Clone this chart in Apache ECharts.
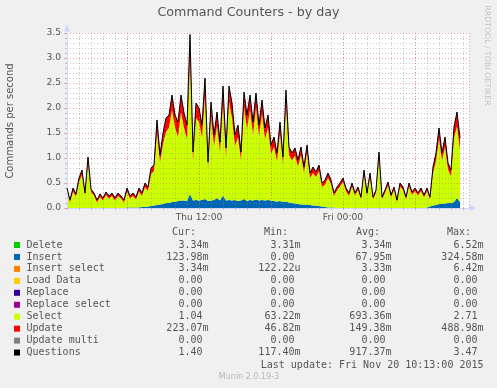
<!DOCTYPE html>
<html><head><meta charset="utf-8">
<script src="https://cdn.jsdelivr.net/npm/echarts@6/dist/echarts.min.js"></script>
<style>html,body{margin:0;padding:0;background:#F0F0F0;}#c{width:497px;height:388px;}</style>
</head><body><div id="c"></div>
<script>
// samples every 15 minutes starting Thu 01:00 (hours since Thu 00:00)
const sampleStartHour = 1;
const sampleStepHours = 0.25;
const slotCount = 135; // time slots shown on the axis (Thu 01:00 .. Fri 10:30)

const questions = [
0.40,0.16,0.40,0.28,0.60,0.76,0.30,1.02,0.38,0.30,
0.16,0.28,0.20,0.32,0.24,0.30,0.20,0.30,0.24,0.16,
0.40,0.24,0.30,0.22,0.40,0.30,0.50,0.42,0.80,0.86,
1.76,1.06,1.50,1.80,1.86,2.26,1.86,1.72,2.26,1.90,
1.66,3.47,1.12,2.10,2.00,1.66,2.60,0.92,2.12,1.46,
1.92,1.32,2.44,1.20,2.44,2.10,1.46,1.66,1.12,2.32,
1.86,2.26,1.72,2.30,1.66,2.16,1.60,1.86,1.26,1.42,
1.10,1.72,1.02,2.36,1.22,1.10,1.20,0.96,1.22,0.82,
1.26,0.70,0.82,0.72,0.86,0.50,0.56,0.70,0.56,0.30,
0.42,0.50,0.60,0.40,0.30,0.50,0.30,0.42,0.22,0.76,
0.30,0.70,0.22,0.36,1.12,0.22,0.36,0.52,0.26,0.42,
0.16,0.50,0.42,0.22,0.50,0.32,0.40,0.30,0.40,0.26,
0.40,0.22,0.82,1.10,1.60,1.10,1.42,0.90,0.76,1.62,
1.92,1.40];

const insert = [
0,0,0,0,0,0,0,0,0,0,
0,0,0,0,0,0,0,0,0,0,
0.01,0.01,0.01,0.01,0.01,0.02,0.02,0.03,0.04,0.05,
0.06,0.07,0.08,0.10,0.10,0.12,0.12,0.14,0.15,0.15,
0.14,0.28,0.15,0.16,0.15,0.16,0.18,0.14,0.15,0.16,
0.20,0.15,0.25,0.15,0.16,0.15,0.16,0.14,0.15,0.18,
0.14,0.16,0.15,0.17,0.15,0.16,0.15,0.16,0.15,0.14,
0.13,0.14,0.12,0.13,0.11,0.10,0.09,0.08,0.07,0.07,
0.06,0.06,0.05,0.05,0.04,0.03,0.02,0.01,0.01,0.01,
0,0,0,0,0,0,0,0,0,0,
0,0,0,0,0,0,0,0,0,0,
0,0,0,0,0,0,0,0,0,0,
0.01,0.03,0.05,0.06,0.08,0.08,0.09,0.10,0.10,0.12,
0.20,0.12];

const select = [
0.34,0.11,0.33,0.23,0.52,0.66,0.25,0.90,0.32,0.25,
0.11,0.22,0.15,0.26,0.19,0.24,0.15,0.24,0.19,0.11,
0.32,0.18,0.23,0.16,0.32,0.22,0.40,0.31,0.64,0.69,
1.45,0.84,1.20,1.42,1.51,1.84,1.49,1.28,1.76,1.45,
1.24,2.70,0.79,1.64,1.57,1.25,2.07,0.63,1.67,1.08,
1.44,0.97,1.84,0.87,1.96,1.65,1.08,1.27,0.81,1.84,
1.44,1.80,1.32,1.83,1.29,1.72,1.23,1.45,0.93,1.08,
0.81,1.36,0.75,1.93,0.95,0.85,0.96,0.75,0.99,0.63,
1.05,0.54,0.65,0.57,0.70,0.39,0.45,0.59,0.47,0.23,
0.35,0.43,0.52,0.34,0.24,0.43,0.25,0.36,0.17,0.66,
0.24,0.61,0.17,0.30,1.00,0.17,0.30,0.45,0.21,0.36,
0.11,0.43,0.36,0.17,0.43,0.26,0.34,0.25,0.34,0.21,
0.33,0.14,0.65,0.88,1.30,0.87,1.13,0.67,0.54,1.28,
1.44,1.04];

const update = [
0.06,0.05,0.07,0.05,0.08,0.10,0.05,0.12,0.06,0.05,
0.05,0.06,0.05,0.06,0.05,0.06,0.05,0.06,0.05,0.05,
0.07,0.05,0.06,0.05,0.07,0.06,0.08,0.08,0.12,0.12,
0.25,0.15,0.22,0.28,0.25,0.30,0.25,0.30,0.35,0.30,
0.28,0.49,0.18,0.30,0.28,0.25,0.35,0.15,0.30,0.22,
0.28,0.20,0.35,0.18,0.32,0.30,0.22,0.25,0.16,0.30,
0.28,0.30,0.25,0.30,0.22,0.28,0.22,0.25,0.18,0.20,
0.16,0.22,0.15,0.30,0.16,0.15,0.15,0.13,0.16,0.12,
0.15,0.10,0.12,0.10,0.12,0.08,0.09,0.10,0.08,0.06,
0.07,0.07,0.08,0.06,0.06,0.07,0.05,0.06,0.05,0.10,
0.06,0.09,0.05,0.06,0.12,0.05,0.06,0.07,0.05,0.06,
0.05,0.07,0.06,0.05,0.07,0.06,0.06,0.05,0.06,0.05,
0.06,0.05,0.12,0.16,0.22,0.15,0.20,0.13,0.12,0.22,
0.28,0.223];

const xTickHours = [12, 24];
const xTickLabels = ['Thu 12:00', 'Fri 00:00'];
const majorGridHours = [6, 12, 18, 24, 30];
const yMin = 0, yMax = 3.5, yStep = 0.5;

const legendNames = ['Delete','Insert','Insert select','Load Data','Replace','Replace select','Select','Update','Update multi','Questions'];
const legendColors = ['#00CC00','#0066B3','#FF8000','#FFCC00','#330099','#990099','#CCFF00','#FF0000','#808080','#000000'];
const curValues = ['3.34m','123.98m','3.34m','0.00','0.00','0.00','1.04','223.07m','0.00','1.40'];
const minValues = ['3.31m','0.00','122.22u','0.00','0.00','0.00','63.22m','46.82m','0.00','117.40m'];
const avgValues = ['3.34m','67.95m','3.33m','0.00','0.00','0.00','693.36m','149.38m','0.00','917.37m'];
const maxValues = ['6.52m','324.58m','6.42m','0.00','0.00','0.00','2.71','488.98m','0.00','3.47'];
const columnHeaders = ['Cur:','Min:','Avg:','Max:'];
const lastUpdate = 'Last update: Fri Nov 20 10:13:00 2015';

const slotHours = Array.from({length: slotCount}, (_, i) => sampleStartHour + i * sampleStepHours);
const categories = slotHours.map(h => String(h));

const SANS = '"DejaVu Sans", sans-serif';
const MONO = '"DejaVu Sans Mono", monospace';
const TXT = '#555555';

const graphics = [];
graphics.push({type:'text', x:248.5, y:13, style:{text:'Command Counters - by day', fontFamily:SANS, fontSize:12.7, fill:TXT, align:'center', verticalAlign:'middle'}});
graphics.push({type:'text', x:10, y:121, rotation:Math.PI/2, style:{text:'Commands per second', fontFamily:SANS, fontSize:10, fill:TXT, align:'center', verticalAlign:'middle'}});
graphics.push({type:'text', x:487, y:55.5, rotation:-Math.PI/2, style:{text:'RRDTOOL / TOBI OETIKER', fontFamily:SANS, fontSize:7.8, fill:'#c4c4c4', align:'center', verticalAlign:'middle'}});
graphics.push({type:'text', x:249, y:377, style:{text:'Munin 2.0.19-3', fontFamily:SANS, fontSize:8, fill:'#b8b8b8', align:'center', verticalAlign:'middle'}});

const colRight = [208.5, 300.5, 391.5, 483.5];
const headerLeft = [172, 264, 356, 447];
columnHeaders.forEach((h,k)=>{
  graphics.push({type:'text', x:headerLeft[k], y:232.5, style:{text:h, fontFamily:MONO, fontSize:10, fill:TXT, align:'left', verticalAlign:'middle'}});
});
const cols = [curValues, minValues, avgValues, maxValues];
legendNames.forEach((n,r)=>{
  const y = 245 + r*11.95;
  graphics.push({type:'rect', shape:{x:14, y:y-3, width:6, height:6}, style:{fill:legendColors[r]}});
  graphics.push({type:'text', x:26.5, y:y, style:{text:n, fontFamily:MONO, fontSize:10, fill:TXT, align:'left', verticalAlign:'middle'}});
  cols.forEach((col,k)=>{
    const v = col[r];
    const hasSuffix = /[a-zA-Z]$/.test(v);
    graphics.push({type:'text', x: colRight[k] - (hasSuffix?0:6.02), y:y, style:{text:v, fontFamily:MONO, fontSize:10, fill:TXT, align:'right', verticalAlign:'middle'}});
  });
});
graphics.push({type:'text', x:483.5, y:365, style:{text:lastUpdate, fontFamily:MONO, fontSize:10, fill:TXT, align:'right', verticalAlign:'middle'}});

const gridGrey = 'rgba(140,140,140,0.45)';
const gridRed = 'rgba(224,80,80,0.5)';
const axisBlue = '#CFD6F8';

const isHour = (i) => Number.isInteger(slotHours[i]);
const isMajor = (i) => majorGridHours.includes(slotHours[i]) || i === slotCount - 1;
const isLabel = (i) => xTickHours.includes(slotHours[i]);

const areaSeries = (name, arr, color) => ({
  name, type:'line', stack:'total', data:arr, symbol:'none', z:2, xAxisIndex:0,
  lineStyle:{width:0}, areaStyle:{color, opacity:1}, itemStyle:{color}
});

const chart = echarts.init(document.getElementById('c'), null, {renderer:'canvas'});
chart.setOption({
  backgroundColor:'#F0F0F0',
  animation:false,
  grid:{left:67, top:33, width:402, height:175, show:true, backgroundColor:'#FFFFFF', borderWidth:0},
  xAxis:[{
    type:'category', data:categories, boundaryGap:false, z:3, position:'bottom',
    axisLine:{show:true, lineStyle:{color:axisBlue, width:1}, symbol:['none','triangle'], symbolSize:[6,7], symbolOffset:[0,4]},
    axisTick:{show:true, length:2, interval:(i)=>isHour(i), lineStyle:{color:'#bbbbbb'}},
    splitLine:{show:true, interval:(i)=>isHour(i), lineStyle:{color:gridGrey, width:1, type:[1,2]}},
    axisLabel:{margin:5, fontFamily:SANS, fontSize:9.2, color:TXT, interval:(i)=>isLabel(i),
      formatter:(v)=>{ const k = xTickHours.indexOf(Number(v)); return k>=0 ? xTickLabels[k] : ''; }}
  },{
    type:'category', data:categories, boundaryGap:false, z:3, position:'top',
    axisLine:{show:false}, axisTick:{show:false}, axisLabel:{show:false},
    splitLine:{show:true, interval:(i)=>isMajor(i), lineStyle:{color:gridRed, width:1, type:[1,2]}}
  }],
  yAxis:{
    type:'value', min:yMin, max:yMax, interval:yStep, z:3,
    axisLine:{show:true, lineStyle:{color:axisBlue, width:1}, symbol:['none','triangle'], symbolSize:[6,7], symbolOffset:[0,5]},
    axisTick:{show:true, length:3, lineStyle:{color:gridRed}},
    minorTick:{show:true, splitNumber:5, length:2, lineStyle:{color:'#bbbbbb'}},
    splitLine:{show:true, lineStyle:{color:gridRed, width:1, type:[1,2]}},
    minorSplitLine:{show:true, lineStyle:{color:gridGrey, width:1, type:[1,2]}},
    axisLabel:{margin:6, fontFamily:SANS, fontSize:9.2, color:TXT, formatter:(v)=>v.toFixed(1)}
  },
  series:[
    areaSeries('Insert', insert, '#0066B3'),
    areaSeries('Select', select, '#CCFF00'),
    areaSeries('Update', update, '#FF0000'),
    {name:'Questions', type:'line', data:questions, symbol:'none', z:4, xAxisIndex:0,
      lineStyle:{color:'#000000', width:1}, itemStyle:{color:'#000'}}
  ],
  graphic: graphics
});
</script></body></html>
